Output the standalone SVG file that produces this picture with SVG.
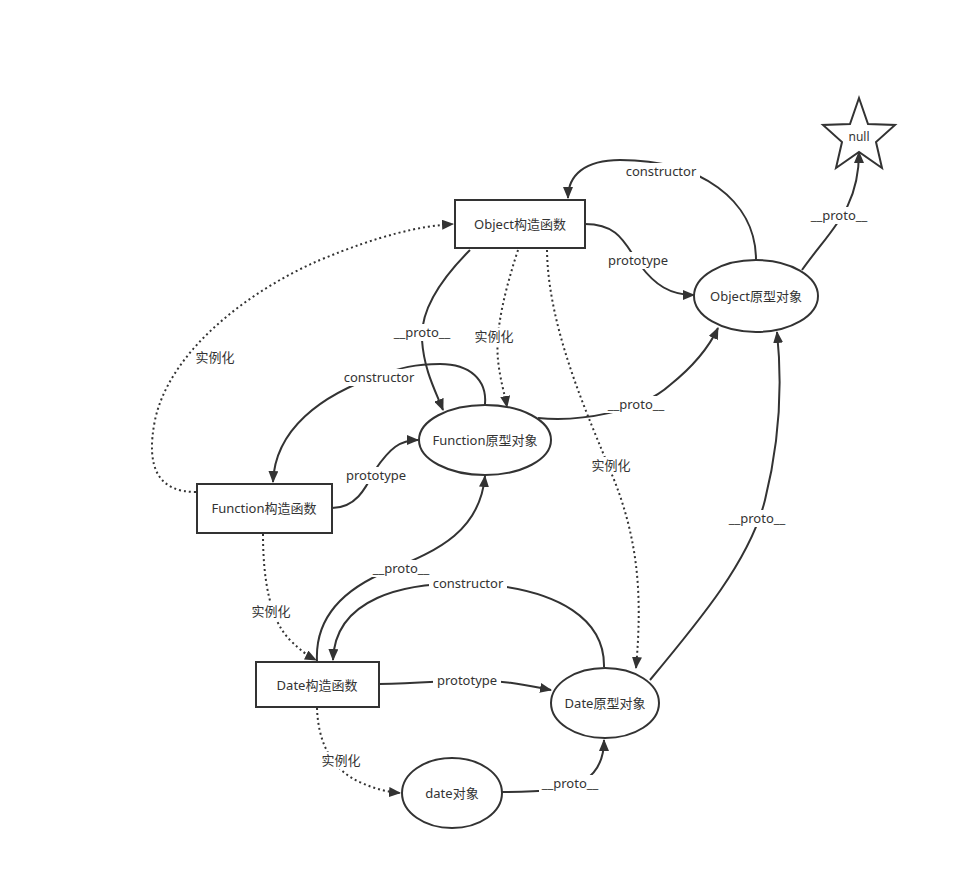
<svg xmlns="http://www.w3.org/2000/svg" width="956" height="889" viewBox="0 0 956 889">
<defs>
<marker id="ah" viewBox="0 0 12 10" refX="11" refY="5" markerWidth="12" markerHeight="10" markerUnits="userSpaceOnUse" orient="auto">
<path d="M0,0 L12,5 L0,10 z" fill="#333"/>
</marker>
<style>
.n{fill:#fff;stroke:#333;stroke-width:2}
.t{font-family:"Noto Sans","Noto Sans CJK SC",sans-serif;font-size:13px;fill:#333;text-anchor:middle;dominant-baseline:central}
.c{fill:none;stroke:#333;stroke-width:2;marker-end:url(#ah)}
.d{fill:none;stroke:#333;stroke-width:2;stroke-dasharray:2 3;marker-end:url(#ah)}
.lb{fill:#fff}
</style>
</defs>
<rect width="956" height="889" fill="#fff"/>
<g id="connectors">
<path class="c" d="M756,260 C756,200 700,160 620,160 C585,160 568,175 568,198"/>
<path class="c" d="M585,224 C620,224 625,245 640,265 C655,285 670,295 694,295"/>
<path class="c" d="M802,270 C830,230 859,210 859,152"/>
<path class="c" d="M470,250 C440,280 420,310 422,340 C424,370 435,390 443,410"/>
<path class="d" d="M518,250 C505,290 495,330 498,360 C500,380 505,395 507,407"/>
<path class="d" d="M547,250 C548,330 590,420 610,470 C640,540 642,600 636,668"/>
<path class="c" d="M538,418 C580,422 640,412 670,385 C695,365 710,345 718,328"/>
<path class="c" d="M485,404 C487,380 470,364 440,364 C415,364 400,368 380,375 C320,395 275,430 273,482"/>
<path class="c" d="M332,508 C355,508 365,490 375,470 C390,448 400,440 418,440"/>
<path class="d" d="M196,492 C160,492 145,470 155,420 C170,350 250,290 320,260 C380,235 420,226 453,224"/>
<path class="d" d="M263,534 C263,580 270,620 290,640 C300,650 308,656 316,660"/>
<path class="c" d="M317,661 C315,620 340,590 390,570 C440,550 480,530 485,476"/>
<path class="c" d="M604,667 C605,620 560,590 480,584 C400,580 335,600 333,660"/>
<path class="c" d="M379,684 C420,683 440,681 470,680 C505,680 530,686 551,690"/>
<path class="d" d="M317,708 C318,740 330,770 362,783 C375,789 388,792 400,793"/>
<path class="c" d="M502,792 C540,792 570,790 585,780 C600,770 604,755 604,740"/>
<path class="c" d="M650,680 C700,620 750,560 765,500 C780,440 782,380 777,332"/>
<rect class="lb" x="622" y="163" width="78" height="17"/><text class="t" x="661" y="171">constructor</text>
<rect class="lb" x="605" y="252" width="68" height="17"/><text class="t" x="638" y="260">prototype</text>
<rect class="lb" x="808" y="207" width="62" height="17"/><text class="t" x="839" y="215">__proto__</text>
<rect class="lb" x="391" y="324" width="62" height="17"/><text class="t" x="422" y="332">__proto__</text>
<rect class="lb" x="473" y="328" width="42" height="17"/><text class="t" x="494" y="336">实例化</text>
<rect class="lb" x="590" y="457" width="42" height="17"/><text class="t" x="611" y="465">实例化</text>
<rect class="lb" x="605" y="396" width="62" height="17"/><text class="t" x="636" y="404">__proto__</text>
<rect class="lb" x="340" y="369" width="78" height="17"/><text class="t" x="379" y="377">constructor</text>
<rect class="lb" x="342" y="467" width="68" height="17"/><text class="t" x="376" y="475">prototype</text>
<rect class="lb" x="194" y="349" width="42" height="17"/><text class="t" x="215" y="357">实例化</text>
<rect class="lb" x="250" y="603" width="42" height="17"/><text class="t" x="271" y="611">实例化</text>
<rect class="lb" x="370" y="560" width="62" height="17"/><text class="t" x="401" y="568">__proto__</text>
<rect class="lb" x="429" y="575" width="78" height="17"/><text class="t" x="468" y="583">constructor</text>
<rect class="lb" x="433" y="672" width="68" height="17"/><text class="t" x="467" y="680">prototype</text>
<rect class="lb" x="320" y="752" width="42" height="17"/><text class="t" x="341" y="760">实例化</text>
<rect class="lb" x="539" y="775" width="62" height="17"/><text class="t" x="570" y="783">__proto__</text>
<rect class="lb" x="726" y="510" width="62" height="17"/><text class="t" x="757" y="518">__proto__</text>
</g>
<g id="object-ctor"><rect class="n" x="455" y="200" width="130" height="48"/><text class="t" x="520" y="224">Object构造函数</text></g>
<g id="object-proto"><ellipse class="n" cx="756" cy="296" rx="62" ry="36"/><text class="t" x="756" y="296">Object原型对象</text></g>
<g id="null"><polygon class="n" points="859,98 868,124 895,125 876,142 882,168 859,152 836,168 842,142 823,125 850,124"/><text class="t" x="859" y="136" style="font-size:12px">null</text></g>
<g id="function-proto"><ellipse class="n" cx="485" cy="440" rx="66" ry="35"/><text class="t" x="485" y="440">Function原型对象</text></g>
<g id="function-ctor"><rect class="n" x="197" y="484" width="135" height="49"/><text class="t" x="264" y="508">Function构造函数</text></g>
<g id="date-ctor"><rect class="n" x="256" y="662" width="123" height="45"/><text class="t" x="317" y="685">Date构造函数</text></g>
<g id="date-proto"><ellipse class="n" cx="605" cy="703" rx="54" ry="35"/><text class="t" x="605" y="703">Date原型对象</text></g>
<g id="date-obj"><ellipse class="n" cx="452" cy="793" rx="50" ry="35"/><text class="t" x="452" y="793">date对象</text></g>
</svg>
